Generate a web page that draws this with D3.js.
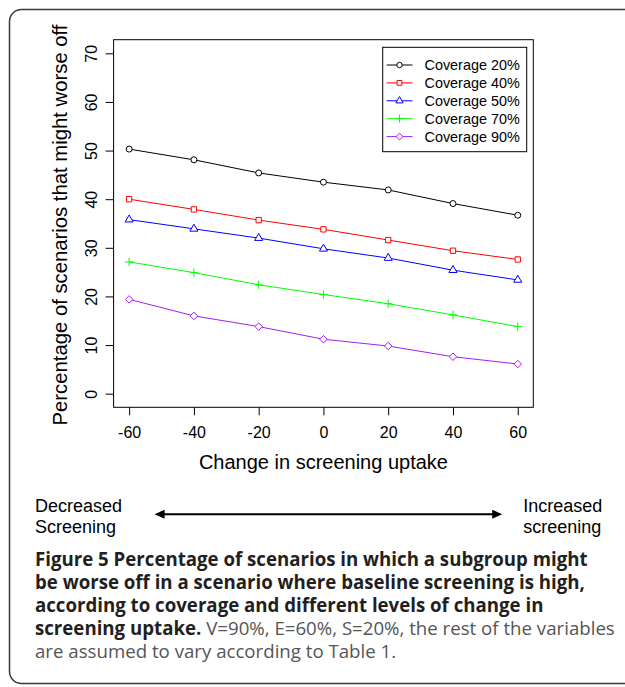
<!DOCTYPE html>
<html><head><meta charset="utf-8">
<script src="https://cdn.jsdelivr.net/npm/d3@7"></script>
<style>body{margin:0;background:#fff}svg{display:block}</style>
</head><body>
<svg id="c" width="625" height="687"></svg>
<script>
// ---- data ----
const changeLevels = [-60, -40, -20, 0, 20, 40, 60];
const coverage20 = [50.3, 48.1, 45.4, 43.5, 41.9, 39.1, 36.7];
const coverage40 = [40.0, 37.9, 35.7, 33.8, 31.6, 29.4, 27.6];
const coverage50 = [35.8, 33.9, 32.0, 29.8, 27.9, 25.4, 23.4];
const coverage70 = [27.1, 24.9, 22.4, 20.4, 18.5, 16.2, 13.8];
const coverage90 = [19.4, 16.0, 13.8, 11.2, 9.8, 7.6, 6.1];
const seriesNames = ["Coverage 20%", "Coverage 40%", "Coverage 50%", "Coverage 70%", "Coverage 90%"];
const seriesValues = [coverage20, coverage40, coverage50, coverage70, coverage90];
const seriesColors = ["#000000", "#ff0000", "#0000ff", "#00ff00", "#a020f0"];
const seriesShapes = ["circle", "square", "triangle", "plus", "diamond"];
const xTickValues = [-60, -40, -20, 0, 20, 40, 60];
const yTickValues = [0, 10, 20, 30, 40, 50, 60, 70];
const xTitle = "Change in screening uptake";
const yTitle = "Percentage of scenarios that might worse off";
const leftNote = ["Decreased", "Screening"];
const rightNote = ["Increased", "screening"];
const captionLines = [
  [["b", "Figure 5 Percentage of scenarios in which a subgroup might"]],
  [["b", "be worse off in a scenario where baseline screening is high,"]],
  [["b", "according to coverage and different levels of change in"]],
  [["b", "screening uptake."], ["r", " V=90%, E=60%, S=20%, the rest of the variables"]],
  [["r", "are assumed to vary according to Table 1."]]
];

// ---- drawing ----
const svg = d3.select("#c");
const CF = "'Liberation Sans', Arial, Helvetica, sans-serif";

// outer frame
svg.append("rect").attr("x", 9.5).attr("y", 9.5).attr("width", 660).attr("height", 674)
  .attr("rx", 12).attr("fill", "none").attr("stroke", "#3a3a3a").attr("stroke-width", 1.5);

const x = d3.scaleLinear().domain([-64.8, 64.8]).range([113.6, 533.3]);
const y = d3.scaleLinear().domain([-2.8, 72.8]).range([407.3, 39.7]);

// x axis
const gx = svg.append("g").attr("transform", `translate(0,${y(-2.8)})`)
  .call(d3.axisBottom(x).tickValues(xTickValues).tickSize(8).tickPadding(11)
    .tickFormat(d => String(d)));
gx.select(".domain").remove();
gx.selectAll("text").attr("font-family", CF).attr("font-size", 16).attr("fill", "#000");
gx.selectAll("line").attr("stroke", "#000");

// y axis
const gy = svg.append("g").attr("transform", `translate(${x(-64.8)},0)`)
  .call(d3.axisLeft(y).tickValues(yTickValues).tickSize(8).tickFormat(d => String(d)));
gy.select(".domain").remove();
gy.selectAll("line").attr("stroke", "#000");
gy.selectAll("text").attr("x", 0).attr("dy", 0).attr("text-anchor", "middle")
  .attr("transform", "translate(-16.3,0) rotate(-90)")
  .attr("font-family", CF).attr("font-size", 16).attr("fill", "#000");

// plot box
svg.append("rect").attr("x", x(-64.8)).attr("y", y(72.8))
  .attr("width", x(64.8) - x(-64.8)).attr("height", y(-2.8) - y(72.8))
  .attr("fill", "none").attr("stroke", "#000").attr("stroke-width", 1);

// titles
svg.append("text").attr("x", (x(-64.8) + x(64.8)) / 2).attr("y", 468.8)
  .attr("text-anchor", "middle").attr("font-family", CF).attr("font-size", 20).text(xTitle);
svg.append("text").attr("transform", `translate(66.5,${(y(-2.8) + y(72.8)) / 2 + 1.5}) rotate(-90)`)
  .attr("text-anchor", "middle").attr("font-family", CF).attr("font-size", 20.3).text(yTitle);

// symbols (R-like)
const RAD = 3.0;
const symbolTypes = {
  circle: { draw(ctx, s) { const r = Math.sqrt(s); ctx.moveTo(r, 0); ctx.arc(0, 0, r, 0, 2 * Math.PI); } },
  square: { draw(ctx, s) { const r = Math.sqrt(s) * 0.886; ctx.rect(-r, -r, 2 * r, 2 * r); } },
  triangle: { draw(ctx, s) { const r = Math.sqrt(s) * 1.555; const xc = r * Math.sqrt(3) / 2;
    ctx.moveTo(0, -r); ctx.lineTo(xc, r / 2); ctx.lineTo(-xc, r / 2); ctx.closePath(); } },
  plus: { draw(ctx, s) { const r = Math.sqrt(s) * 1.414;
    ctx.moveTo(-r, 0); ctx.lineTo(r, 0); ctx.moveTo(0, -r); ctx.lineTo(0, r); } },
  diamond: { draw(ctx, s) { const r = Math.sqrt(s) * 1.253;
    ctx.moveTo(0, -r); ctx.lineTo(r, 0); ctx.lineTo(0, r); ctx.lineTo(-r, 0); ctx.closePath(); } }
};

const line = d3.line().x(d => x(d[0])).y(d => y(d[1]));
seriesValues.forEach((vals, i) => {
  const pts = changeLevels.map((c, j) => [c, vals[j]]);
  const g = svg.append("g");
  g.append("path").attr("d", line(pts)).attr("fill", "none")
    .attr("stroke", seriesColors[i]).attr("stroke-width", 1);
  g.selectAll("path.pt").data(pts).join("path").attr("class", "pt")
    .attr("transform", d => `translate(${x(d[0])},${y(d[1])})`)
    .attr("d", d3.symbol().type(symbolTypes[seriesShapes[i]]).size(RAD * RAD))
    .attr("fill", "#fff").attr("stroke", seriesColors[i]).attr("stroke-width", 1);
});

// legend
const lg = svg.append("g");
lg.append("rect").attr("x", 382.7).attr("y", 47.3).attr("width", 144).attr("height", 104.4)
  .attr("fill", "#fff").attr("stroke", "#000").attr("stroke-width", 1);
seriesNames.forEach((name, i) => {
  const ly = 65 + i * 17.9;
  lg.append("line").attr("x1", 386.6).attr("x2", 412.5).attr("y1", ly).attr("y2", ly)
    .attr("stroke", seriesColors[i]).attr("stroke-width", 1);
  lg.append("path").attr("transform", `translate(399.5,${ly})`)
    .attr("d", d3.symbol().type(symbolTypes[seriesShapes[i]]).size(2.7 * 2.7))
    .attr("fill", "#fff").attr("stroke", seriesColors[i]).attr("stroke-width", 1);
  lg.append("text").attr("x", 424.5).attr("y", ly + 5.2).attr("font-family", CF)
    .attr("font-size", 14.4).text(name);
});

// bottom notes and arrow
leftNote.forEach((t, i) => svg.append("text").attr("x", 35).attr("y", 511.5 + i * 21)
  .attr("font-family", CF).attr("font-size", 18).text(t));
rightNote.forEach((t, i) => svg.append("text").attr("x", 523.3).attr("y", 511.5 + i * 21)
  .attr("font-family", CF).attr("font-size", 18).text(t));
const ay = 514.3, ax1 = 154.6, ax2 = 502.2;
svg.append("line").attr("x1", ax1 + 6).attr("x2", ax2 - 6).attr("y1", ay).attr("y2", ay)
  .attr("stroke", "#000").attr("stroke-width", 2);
svg.append("path").attr("d", `M${ax1},${ay} L${ax1 + 10},${ay - 4.5} L${ax1 + 10},${ay + 4.5} Z`).attr("fill", "#000");
svg.append("path").attr("d", `M${ax2},${ay} L${ax2 - 10},${ay - 4.5} L${ax2 - 10},${ay + 4.5} Z`).attr("fill", "#000");

// caption
const CAPF = "'Open Sans', 'Noto Sans', sans-serif";
const probe = svg.append("text").attr("font-family", CAPF).attr("font-weight", 700)
  .attr("font-size", 20).text(captionLines[0][0][1]);
const w20 = probe.node().getComputedTextLength();
probe.remove();
const capSize = 20 * 553 / w20;
captionLines.forEach((parts, i) => {
  const t = svg.append("text").attr("x", 35).attr("y", 565.5 + i * 23.2)
    .attr("font-family", CAPF).attr("font-size", capSize);
  parts.forEach(([k, s]) => {
    t.append("tspan").attr("font-weight", k === "b" ? 700 : 400)
      .attr("fill", k === "b" ? "#231f20" : "#555555").text(s);
  });
});
</script>
</body></html>
